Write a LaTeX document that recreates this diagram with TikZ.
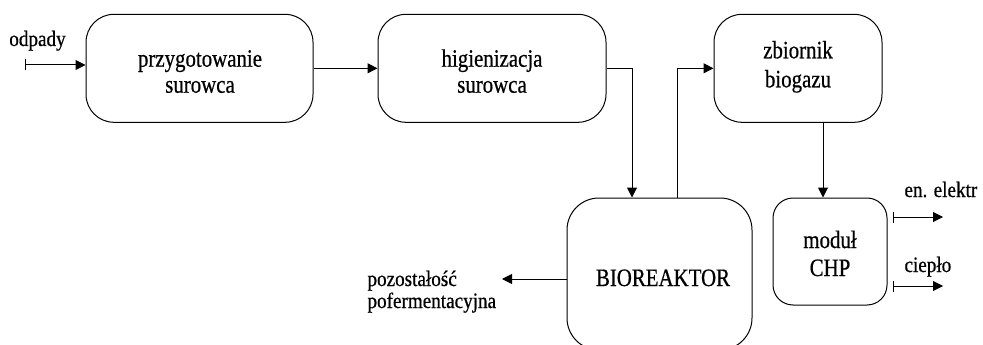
\documentclass[tikz,border=0pt]{standalone}
\usepackage{fontspec}
\setmainfont{Liberation Serif}
\newfontfamily\narrowserif{Liberation Serif}[FakeStretch=0.87,FakeBold=0.6]
\newfontfamily\boxserif{Liberation Serif}[FakeStretch=0.835,FakeBold=0.6]
\usetikzlibrary{arrows.meta}
\begin{document}
\begin{tikzpicture}[x=1pt,y=-1pt,
  line width=1pt,
  box/.style={draw, inner sep=0pt, rounded corners=#1},
  box/.default=28pt,
  txt/.style={inner sep=0pt, align=center, font=\boxserif\fontsize{25}{26}\selectfont},
  lbl/.style={inner sep=0pt, font=\narrowserif\fontsize{22}{22}\selectfont},
  flow/.style={-{Triangle[length=10pt,width=10pt]}},
  inflow/.style={{Bar[width=11pt]}-{Triangle[length=10pt,width=10pt]}}
]
\useasboundingbox (0,0) rectangle (983,345);
\clip (0,0) rectangle (983,345);
% boxes
\node[box, minimum width=227pt, minimum height=108pt] (b1) at (199.5,68.3) {};
\node[box, minimum width=228pt, minimum height=108pt] (b2) at (492,68.3) {};
\node[box, minimum width=168pt, minimum height=108pt] (b3) at (798,68.3) {};
\node[box=32pt, minimum width=185pt, minimum height=152pt] (bio) at (659.5,274) {};
\node[box=20pt, minimum width=114pt, minimum height=107pt] (chp) at (830,251.5) {};
% box texts (base anchor = last line)
\node[txt, anchor=base] (t1) at (200,92.7) {przygotowanie\\surowca};
\node[txt, anchor=base] (t2) at (492,92.7) {higienizacja\\surowca};
\node[txt, anchor=base] (t3) at (798,87.3) {zbiornik\\[3pt]biogazu};
\node[txt, anchor=base] (t4) at (663,286) {BIOREAKTOR};
\node[txt, anchor=base] (t5) at (830,276) {moduł\\[2pt]CHP};
% labels
\node[lbl, anchor=base] (lodp) at (37.5,46) {odpady};
\node[lbl, anchor=base west] (lel) at (904,197) {en. elektr};
\node[lbl, anchor=base west] (lcp) at (904,272) {ciepło};
\node[lbl, anchor=base west, align=left] (lpoz) at (367,308) {pozostałość\\pofermentacyjna};
% free ends
\coordinate (odpS) at (25,65);
\coordinate (elS) at (893,217);
\coordinate (elE) at (943,217);
\coordinate (cpS) at (893,286);
\coordinate (cpE) at (943,286);
\coordinate (pozE) at (502,279);
% connectors
\draw[inflow] (odpS) -- (odpS -| b1.west);
\draw[flow] (b1.east) -- (b2.west);
\draw[flow] (b2.east) -| ([xshift=-27.5pt]bio.north);
\draw[flow] ([xshift=18pt]bio.north) |- (b3.west);
\draw[flow] ([xshift=25pt]b3.south) -- ([xshift=-7pt]chp.north);
\draw[flow] ([yshift=-5pt]bio.west) -- (pozE);
\draw[inflow] (elS) -- (elE);
\draw[inflow] (cpS) -- (cpE);
\end{tikzpicture}
\end{document}
